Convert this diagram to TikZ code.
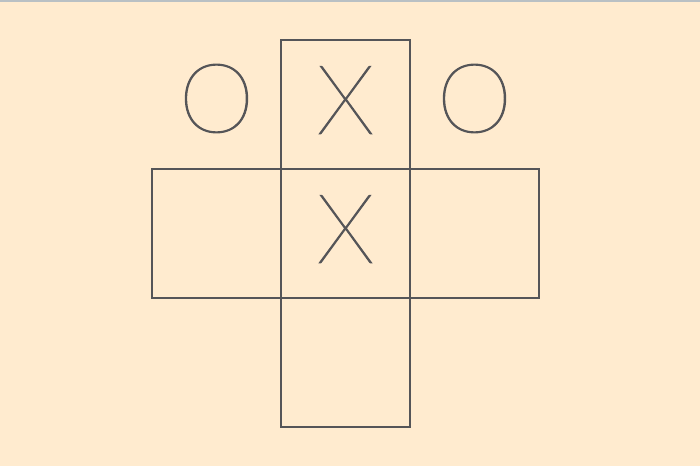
\documentclass[tikz,border=0pt]{standalone}
\usepackage{fontspec}
\newfontfamily\markfont{Lato}[UprightFont=* Hairline, FakeBold=1.2, AutoFakeBold=1.2]
\usetikzlibrary{positioning}
\definecolor{paper}{RGB}{255,235,207}
\definecolor{ink}{RGB}{85,85,88}
\definecolor{rim}{RGB}{185,192,196}
\begin{document}
\begin{tikzpicture}[
  x=0.03cm, y=-0.03cm,
  cell/.style={rectangle, draw=ink, line width=0.05cm, minimum size=3.87cm, outer sep=0pt, inner sep=0pt},
  glyph/.style={text=ink, font=\markfont\fontsize{82}{82}\selectfont\bfseries, inner sep=0pt},
  node distance=0pt
]
  % page
  \fill[paper] (0,0) rectangle (700,466);
  \fill[rim] (0,0) rectangle (700,1.5);
  \useasboundingbox (0,0) rectangle (700,466);

  % board
  \node[cell] (mid) at (345.5,233.5) {};
  \node[cell, above=of mid] (top) {};
  \node[cell, below=of mid] (bot) {};
  \node[cell, left=of mid] (lft) {};
  \node[cell, right=of mid] (rgt) {};

  % marks
  \node[glyph] (xtop) at ([yshift=0.13cm]top) {X};
  \node[glyph] (xmid) at ([yshift=0.13cm]mid) {X};
  \node[glyph] (oleft) at ([yshift=0.18cm]lft |- top) {O};
  \node[glyph] (oright) at ([yshift=0.18cm]rgt |- top) {O};
\end{tikzpicture}
\end{document}
